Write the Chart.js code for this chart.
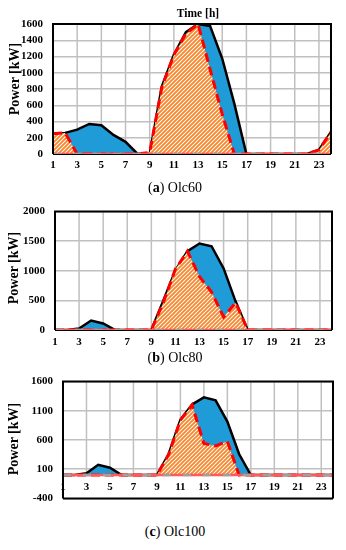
<!DOCTYPE html>
<html>
<head>
<meta charset="utf-8">
<script src="https://cdn.jsdelivr.net/npm/chart.js@4.4.1/dist/chart.umd.min.js"></script>
<style>
  body { margin: 0; background: #fff; width: 346px; height: 550px; position: relative; overflow: hidden; font-family: "Liberation Serif", "Times New Roman", serif; }
  canvas { position: absolute; left: 0; }
  .ytitle { position: absolute; font-weight: bold; font-size: 14px; white-space: nowrap; transform: translate(-50%, -50%) rotate(-90deg); }
  .xtitle { position: absolute; font-weight: bold; font-size: 11.5px; white-space: nowrap; transform: translate(-50%, -50%); }
  .cap { position: absolute; left: 0; width: 350px; text-align: center; font-size: 14px; transform: translateY(-50%); }
</style>
</head>
<body>
<canvas id="c60" width="346" height="176" style="top:0"></canvas>
<canvas id="c80" width="346" height="157" style="top:195px"></canvas>
<canvas id="c100" width="346" height="150" style="top:365px"></canvas>

<div class="xtitle" style="left:198px;top:13px">Time [h]</div>
<div class="ytitle" style="left:15px;top:79px">Power [kW]</div>
<div class="ytitle" style="left:14px;top:268px">Power [kW]</div>
<div class="ytitle" style="left:14px;top:439px">Power [kW]</div>
<div class="cap" style="top:188px">(<b>a</b>) Olc60</div>
<div class="cap" style="top:358px">(<b>b</b>) Olc80</div>
<div class="cap" style="top:532px">(<b>c</b>) Olc100</div>

<script>
// hours of the day
const hours = [1, 2, 3, 4, 5, 6, 7, 8, 9, 10, 11, 12, 13, 14, 15, 16, 17, 18, 19, 20, 21, 22, 23, 24];
const xTicks = [1, 3, 5, 7, 9, 11, 13, 15, 17, 19, 21, 23];
const baseline = [0, 0, 0, 0, 0, 0, 0, 0, 0, 0, 0, 0, 0, 0, 0, 0, 0, 0, 0, 0, 0, 0, 0, 0];

// (a) Olc60
const olc60Load = [250, 260, 300, 370, 355, 235, 150, 0, 0, 830, 1220, 1500, 1600, 1575, 1175, 620, 0, 0, 0, 0, 0, 0, 50, 270];
const olc60Red = [250, 260, 0, 0, 0, 0, 0, 0, 20, 820, 1220, 1480, 1600, 1040, 490, 0, 0, 0, 0, 0, 0, 0, 50, 270];
const yTicks60 = [0, 200, 400, 600, 800, 1000, 1200, 1400, 1600];

// (b) Olc80
const olc80Load = [0, 0, 25, 160, 110, 0, 0, 0, 0, 500, 1010, 1330, 1460, 1415, 1040, 480, 0, 0, 0, 0, 0, 0, 0, 0];
const olc80Red = [0, 0, 0, 0, 0, 0, 0, 0, 0, 470, 1030, 1330, 900, 640, 220, 460, 0, 0, 0, 0, 0, 0, 0, 0];
const yTicks80 = [0, 500, 1000, 1500, 2000];

// (c) Olc100
const olc100Load = [0, 0, 30, 176, 125, 0, 0, 0, 0, 360, 945, 1210, 1330, 1280, 915, 360, 0, 0, 0, 0, 0, 0, 0, 0];
const olc100Red = [0, 0, 0, 0, 0, 0, 0, 0, 0, 350, 940, 1200, 540, 500, 575, 0, 0, 0, 0, 0, 0, 0, 0, 0];
const yTicks100 = [-400, 100, 600, 1100, 1600];

const gridColor = "rgb(192,192,192)";
const tickFont = { family: "Liberation Serif", size: 11, weight: "bold" };

function hatchPattern() {
  const c = document.createElement("canvas");
  c.width = 4;
  c.height = 4;
  const g = c.getContext("2d");
  g.fillStyle = "#fff";
  g.fillRect(0, 0, 4, 4);
  g.strokeStyle = "rgb(245,135,45)";
  g.lineWidth = 1.9;
  g.beginPath();
  g.moveTo(-1, 5); g.lineTo(5, -1);
  g.moveTo(-1, 1); g.lineTo(1, -1);
  g.moveTo(3, 5); g.lineTo(5, 3);
  g.stroke();
  return g.createPattern(c, "repeat");
}

// vertical grid (down to zero) and the plot frame
const framePlugin = {
  id: "frame",
  beforeDatasetsDraw(chart) {
    const { ctx, chartArea: a, scales } = chart;
    const zero = scales.y.getPixelForValue(Math.max(scales.y.min, 0));
    ctx.save();
    ctx.strokeStyle = gridColor;
    ctx.lineWidth = 1.5;
    scales.x.ticks.forEach((t) => {
      const px = scales.x.getPixelForValue(t.value);
      ctx.beginPath();
      ctx.moveTo(px, a.top);
      ctx.lineTo(px, zero);
      ctx.stroke();
    });
    ctx.strokeStyle = "#000";
    ctx.lineWidth = 2;
    ctx.beginPath();
    ctx.moveTo(a.left, a.bottom);
    ctx.lineTo(a.right, a.bottom);
    ctx.stroke();
    ctx.restore();
  },
  afterDatasetsDraw(chart) {
    const { ctx, chartArea: a } = chart;
    ctx.save();
    ctx.strokeStyle = "#000";
    ctx.lineWidth = 2;
    ctx.beginPath();
    ctx.moveTo(a.left, a.bottom);
    ctx.lineTo(a.left, a.top);
    ctx.lineTo(a.right, a.top);
    ctx.lineTo(a.right, a.bottom);
    ctx.stroke();
    ctx.restore();
  }
};

function makeChart(id, load, red, yTicks, cfg) {
  return new Chart(document.getElementById(id), {
    type: "line",
    data: {
      labels: hours,
      datasets: [
        {
          data: baseline,
          borderColor: "rgb(160,160,160)",
          borderWidth: 2.5,
          borderDash: [8, 12],
          pointRadius: 0,
          order: 0
        },
        {
          data: baseline,
          borderColor: "rgb(255,90,90)",
          borderWidth: 2.5,
          pointRadius: 0,
          order: 1
        },
        {
          data: red,
          borderColor: "#ff0000",
          borderWidth: 3,
          borderDash: [9, 5],
          backgroundColor: hatchPattern(),
          fill: "origin",
          pointRadius: 0,
          order: 2
        },
        {
          data: load,
          borderColor: "#000",
          borderWidth: 2.5,
          backgroundColor: "rgb(31,155,215)",
          fill: "origin",
          pointRadius: 0,
          order: 3
        }
      ]
    },
    options: {
      responsive: false,
      animation: false,
      layout: { padding: cfg.padding },
      plugins: { legend: { display: false }, tooltip: { enabled: false } },
      scales: {
        x: {
          type: "linear",
          min: hours[0],
          max: hours[hours.length - 1],
          position: cfg.xAtZero ? { y: 0 } : "bottom",
          afterBuildTicks: (s) => { s.ticks = xTicks.map((v) => ({ value: v })); },
          afterFit: (s) => { if (!cfg.xAtZero) s.height = cfg.xHeight; },
          grid: { display: false, drawTicks: false },
          border: { display: false },
          ticks: { font: tickFont, color: "#000", padding: cfg.xPad, maxRotation: 0, autoSkip: false }
        },
        y: {
          min: yTicks[0],
          max: yTicks[yTicks.length - 1],
          afterBuildTicks: (s) => { s.ticks = yTicks.map((v) => ({ value: v })); },
          afterFit: (s) => { s.width = cfg.yWidth; },
          grid: { color: gridColor, lineWidth: 1.5, drawTicks: false },
          border: { display: false },
          ticks: { font: tickFont, color: "#000", padding: 10, callback: (v) => String(v) }
        }
      }
    },
    plugins: [framePlugin]
  });
}

makeChart("c60", olc60Load, olc60Red, yTicks60, { padding: { top: 24, right: 15 }, yWidth: 53, xHeight: 22, xPad: 5 });
makeChart("c80", olc80Load, olc80Red, yTicks80, { padding: { top: 10, right: 14 }, yWidth: 55, xHeight: 22, xPad: 6 });
makeChart("c100", olc100Load, olc100Red, yTicks100, { padding: { top: 12, right: 13, bottom: 12 }, yWidth: 63, xAtZero: true, xPad: 6 });
</script>
</body>
</html>
